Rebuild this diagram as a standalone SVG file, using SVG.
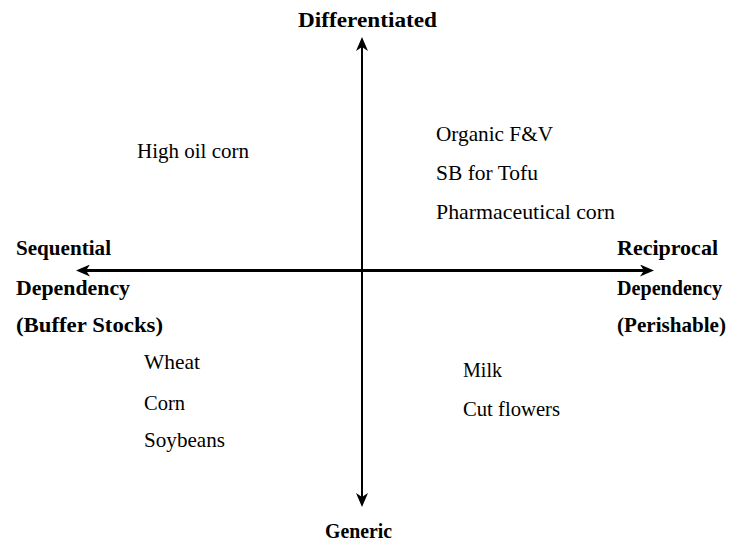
<svg xmlns="http://www.w3.org/2000/svg" width="737" height="547" viewBox="0 0 737 547">
<style>
.bl{font-family:'Liberation Serif','Times New Roman','DejaVu Serif',serif;font-weight:bold;font-size:22px;fill:#000}
.tx{font-family:'Liberation Serif','Times New Roman','DejaVu Serif',serif;font-size:21px;fill:#000}
.ax{stroke:#000;fill:none}
</style>
<defs>
<marker id="ah" viewBox="0 0 14 12" markerWidth="14" markerHeight="12" refX="4" refY="6" markerUnits="userSpaceOnUse" orient="auto-start-reverse">
<path d="M0,0 L14,6 L0,12 L4,6 Z" fill="#000"/>
</marker>
</defs>
<g id="connectors">
<line class="ax" x1="86" y1="270.5" x2="644" y2="270.5" stroke-width="3" marker-start="url(#ah)" marker-end="url(#ah)"/>
<line class="ax" x1="362" y1="47" x2="362" y2="497" stroke-width="2" marker-start="url(#ah)" marker-end="url(#ah)"/>
</g>
<g id="differentiated"><text class="bl" font-family="Liberation Serif, serif" x="298" y="27" textLength="139" lengthAdjust="spacingAndGlyphs">Differentiated</text></g>
<g id="generic"><text class="bl" font-family="Liberation Serif, serif" x="325" y="538" textLength="67" lengthAdjust="spacingAndGlyphs">Generic</text></g>
<g id="sequential" font-family="Liberation Serif, serif">
<text class="bl" x="16" y="255" textLength="95" lengthAdjust="spacingAndGlyphs">Sequential</text>
<text class="bl" x="16" y="295" textLength="114" lengthAdjust="spacingAndGlyphs">Dependency</text>
<text class="bl" x="16" y="332" textLength="147" lengthAdjust="spacingAndGlyphs">(Buffer Stocks)</text>
</g>
<g id="reciprocal">
<text class="bl" x="617" y="255" textLength="101" lengthAdjust="spacingAndGlyphs">Reciprocal</text>
<text class="bl" x="617" y="295" textLength="105" lengthAdjust="spacingAndGlyphs">Dependency</text>
<text class="bl" x="617" y="332" textLength="109" lengthAdjust="spacingAndGlyphs">(Perishable)</text>
</g>
<g id="high-oil-corn"><text class="tx" x="137" y="158" textLength="112" lengthAdjust="spacingAndGlyphs">High oil corn</text></g>
<g id="differentiated-reciprocal">
<text class="tx" x="436" y="141" textLength="117" lengthAdjust="spacingAndGlyphs">Organic F&amp;V</text>
<text class="tx" x="436" y="180" textLength="102" lengthAdjust="spacingAndGlyphs">SB for Tofu</text>
<text class="tx" x="436" y="219" textLength="179" lengthAdjust="spacingAndGlyphs">Pharmaceutical corn</text>
</g>
<g id="generic-sequential">
<text class="tx" x="144" y="369" textLength="56" lengthAdjust="spacingAndGlyphs">Wheat</text>
<text class="tx" x="144" y="410" textLength="41" lengthAdjust="spacingAndGlyphs">Corn</text>
<text class="tx" x="144" y="447" textLength="81" lengthAdjust="spacingAndGlyphs">Soybeans</text>
</g>
<g id="generic-reciprocal">
<text class="tx" x="463" y="377" textLength="39" lengthAdjust="spacingAndGlyphs">Milk</text>
<text class="tx" x="463" y="416" textLength="97" lengthAdjust="spacingAndGlyphs">Cut flowers</text>
</g>
</svg>
